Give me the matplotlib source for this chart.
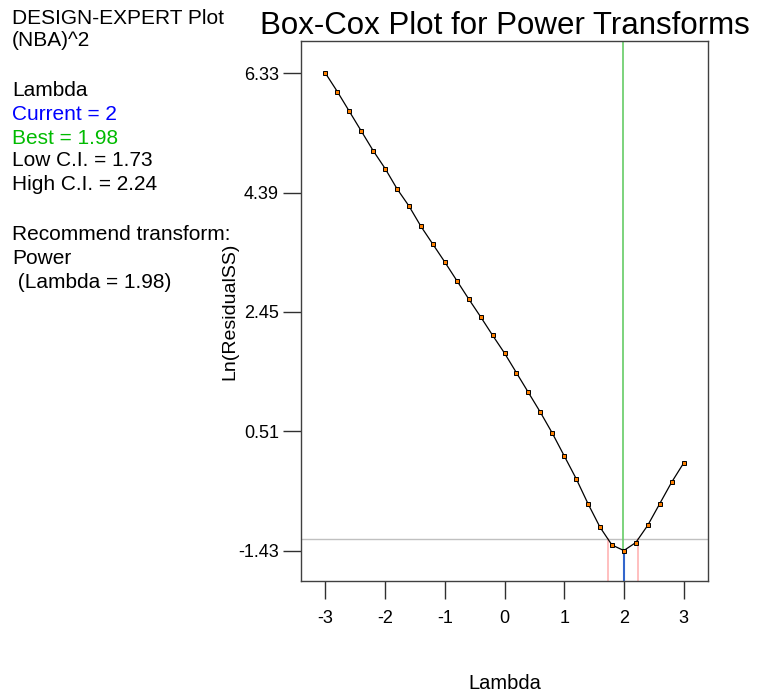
import numpy as np
import matplotlib
matplotlib.use("Agg")
import matplotlib.pyplot as plt

plt.rcParams['font.family'] = ['Liberation Sans', 'DejaVu Sans']

# Box-Cox scan: lambda grid and ln(residual SS)
lambdas = [-3.0, -2.8, -2.6, -2.4, -2.2, -2.0, -1.8, -1.6, -1.4, -1.2, -1.0,
           -0.8, -0.6, -0.4, -0.2, 0.0, 0.2, 0.4, 0.6, 0.8, 1.0,
           1.2, 1.4, 1.6, 1.8, 2.0, 2.2, 2.4, 2.6, 2.8, 3.0]
ln_rss = [6.33, 6.03, 5.71, 5.39, 5.07, 4.78, 4.45, 4.17, 3.84, 3.55, 3.26,
          2.96, 2.66, 2.37, 2.07, 1.78, 1.46, 1.14, 0.82, 0.48, 0.11,
          -0.26, -0.67, -1.05, -1.34, -1.43, -1.30, -1.02, -0.67, -0.32, -0.01]

current_lambda = 2
best_lambda = 1.98
low_ci = 1.73
high_ci = 2.24
ci_threshold = -1.24

y_ticks = [-1.43, 0.51, 2.45, 4.39, 6.33]
x_ticks = [-3, -2, -1, 0, 1, 2, 3]

fig = plt.figure(figsize=(7.65, 6.98), dpi=100)
ax = fig.add_axes([0.3935, 0.1672, 0.532, 0.7745])

ymin, ymax = -1.93, 6.86
ax.set_xlim(-3.41, 3.41)
ax.set_ylim(ymin, ymax)

# reference lines
ax.axhline(ci_threshold, color='#c0c0c0', lw=1.0, zorder=1)
ax.plot([low_ci, low_ci], [ymin, ci_threshold], color='#ffb4b4', lw=1.2, zorder=1)
ax.plot([high_ci, high_ci], [ymin, ci_threshold], color='#ffb4b4', lw=1.2, zorder=1)
best_y = np.interp(best_lambda, lambdas, ln_rss)
cur_y = np.interp(current_lambda, lambdas, ln_rss)
ax.plot([best_lambda, best_lambda], [best_y, ymax], color='#66cc66', lw=1.2, zorder=1)
ax.plot([current_lambda, current_lambda], [ymin, cur_y], color='#3366cc', lw=1.5, zorder=1)

# curve and points
ax.plot(lambdas, ln_rss, color='black', lw=0.9, zorder=2)
ax.plot(lambdas, ln_rss, linestyle='none', marker='s', markersize=3.4,
        markerfacecolor='#ff8000', markeredgecolor='black', markeredgewidth=0.7,
        zorder=3)

ax.set_xticks(x_ticks)
ax.set_xticklabels([str(v) for v in x_ticks])
ax.set_yticks(y_ticks)
ax.set_yticklabels([f"{v:.2f}" for v in y_ticks])
ax.tick_params(axis='both', direction='out', length=13, width=1.0,
               color='#303030', labelsize=13, pad=3)
ax.tick_params(axis='x', pad=8)
for sp in ax.spines.values():
    sp.set_color('#404040')
    sp.set_linewidth(1.0)

ax.set_xlabel('Lambda', fontsize=14.5)
ax.xaxis.set_label_coords(0.5, -0.172)
ax.set_ylabel('Ln(ResidualSS)', fontsize=14)
ax.yaxis.set_label_coords(-0.155, 0.5)
ax.set_title('Box-Cox Plot for Power Transforms', fontsize=22.5, pad=4)

# side panel text
lines = [
    ("DESIGN-EXPERT Plot", 'black', 18),
    ("(NBA)^2", 'black', 41),
    ("Lambda", 'black', 90),
    ("Current = 2", '#0000ff', 114),
    ("Best = 1.98", '#00bb00', 138),
    ("Low C.I. = 1.73", 'black', 161),
    ("High C.I. = 2.24", 'black', 185),
    ("Recommend transform:", 'black', 235),
    ("Power", 'black', 259),
    (" (Lambda = 1.98)", 'black', 283),
]
W, H = 765, 698
for txt, col, ypix in lines:
    fig.text(12 / W, 1 - ypix / H, txt, color=col, fontsize=15,
             ha='left', va='center')

fig.savefig('out.png', dpi=100)
